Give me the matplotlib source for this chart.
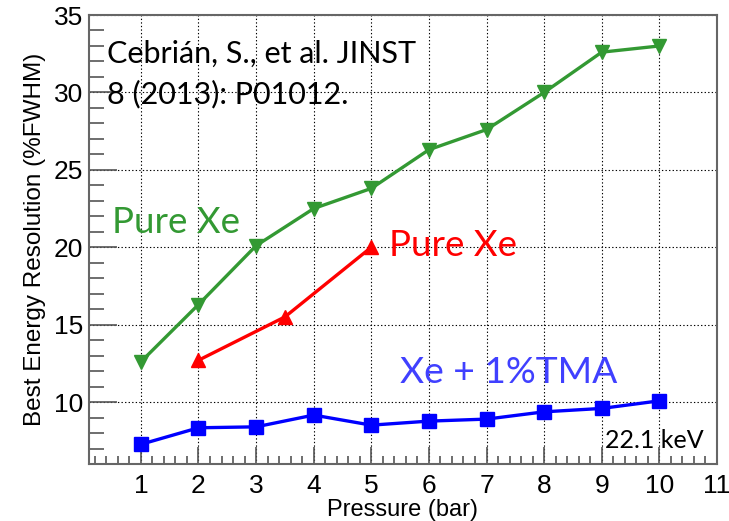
import matplotlib.pyplot as plt
from matplotlib.ticker import MultipleLocator

# Best energy resolution vs. pressure at 22.1 keV
p_pure = [1, 2, 3, 4, 5, 6, 7, 8, 9, 10]
res_pure = [12.6, 16.3, 20.1, 22.5, 23.8, 26.3, 27.6, 30.0, 32.6, 33.0]

p_pure_old = [2, 3.5, 5]
res_pure_old = [12.7, 15.5, 20.0]

p_tma = [1, 2, 3, 4, 5, 6, 7, 8, 9, 10]
res_tma = [7.27, 8.34, 8.4, 9.16, 8.51, 8.77, 8.9, 9.37, 9.59, 10.08]

green = '#339933'
text_font = ['Lato', 'DejaVu Sans']

fig = plt.figure(figsize=(7.29, 5.21), dpi=100)
ax = fig.add_axes([0.1221, 0.1094, 0.8614, 0.8618])

ax.plot(p_pure, res_pure, color=green, lw=2.4, marker='v', ms=10, zorder=3)
ax.plot(p_pure_old, res_pure_old, color='#ff0000', lw=2.4, marker='^', ms=10, zorder=3)
ax.plot(p_tma, res_tma, color='#0000ff', lw=2.4, marker='s', ms=9.5, zorder=3)

ax.set_xlim(0.1, 11)
ax.set_ylim(6, 35)
ax.set_xticks(range(1, 12))
ax.set_yticks([10, 15, 20, 25, 30, 35])
ax.xaxis.set_minor_locator(MultipleLocator(0.2))
ax.yaxis.set_minor_locator(MultipleLocator(1))
ax.tick_params(which='both', direction='in', top=False, right=False,
               labelsize=19, colors='#555555', labelcolor='black')
ax.tick_params(axis='x', which='major', length=12, width=1.2, pad=7)
ax.tick_params(axis='x', which='minor', length=6, width=1.2)
ax.tick_params(axis='y', which='major', length=20, width=1.2, pad=4)
ax.tick_params(axis='y', which='minor', length=11, width=1.2)
for lbl in ax.get_xticklabels() + ax.get_yticklabels():
    lbl.set_family('Liberation Sans')
ax.grid(True, which='major', color='black', ls=(0, (1.2, 2)), lw=0.8)
for s in ax.spines.values():
    s.set_color('#666666')
    s.set_linewidth(1.5)

ax.set_xlabel('Pressure (bar)', fontsize=17, family='Liberation Sans', labelpad=1)
ax.set_ylabel('Best Energy Resolution (%FWHM)', fontsize=17.5, family='Liberation Sans', labelpad=6)

ax.text(0.42, 31.2, 'Cebrián, S., et al. JINST\n8 (2013): P01012.', fontsize=22,
        family=text_font, color='black', va='center', linespacing=1.5)
ax.text(0.5, 21.6, 'Pure Xe', fontsize=26.5, family=text_font, color=green, va='center')
ax.text(5.3, 20.1, 'Pure Xe', fontsize=26.5, family=text_font, color='#ff0000', va='center')
ax.text(5.5, 11.9, 'Xe + 1%TMA', fontsize=26.8, family=text_font, color='#4040ff', va='center')
ax.text(9.05, 7.55, '22.1 keV', fontsize=18, family=text_font, color='black', va='center')

fig.savefig('out.png', dpi=100)
